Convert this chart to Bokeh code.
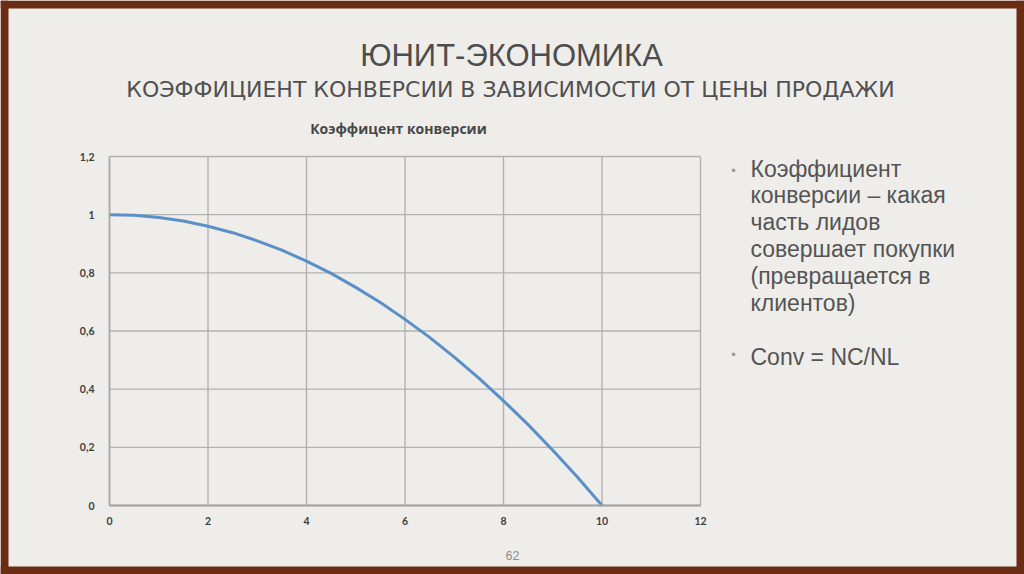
from bokeh.plotting import figure
from bokeh.models import Range1d, FixedTicker, CustomJSTickFormatter, Label
from bokeh.embed import file_html
from bokeh.resources import INLINE

# ---- data ----
price = [0, 0.5, 1, 1.5, 2, 2.5, 3, 3.5, 4, 4.5, 5, 5.5, 6, 6.5, 7, 7.5, 8, 8.5, 9, 9.5, 10]
conversion = [1.000, 0.998, 0.990, 0.978, 0.960, 0.938, 0.910, 0.878, 0.840, 0.798, 0.750,
              0.698, 0.640, 0.578, 0.510, 0.438, 0.360, 0.278, 0.190, 0.098, 0.000]
x_ticks = [0, 2, 4, 6, 8, 10, 12]
y_ticks = [0, 0.2, 0.4, 0.6, 0.8, 1.0, 1.2]

slide_title = "ЮНИТ-ЭКОНОМИКА"
slide_subtitle = "КОЭФФИЦИЕНТ КОНВЕРСИИ В ЗАВИСИМОСТИ ОТ ЦЕНЫ ПРОДАЖИ"
chart_title = "Коэффицент конверсии"
bullet1_lines = ["Коэффициент", "конверсии – какая", "часть лидов",
                 "совершает покупки", "(превращается в", "клиентов)"]
bullet2_lines = ["Conv = NC/NL"]
page_number = "62"

# ---- layout (page pixels) ----
PW, PH = 1024, 574
BROWN = "#6b2c14"
BG = "#eeedea"
TEXT = "#545454"
B = 8  # brown frame thickness
FL, FR, FT, FB = 109, 700, 156, 505  # chart plotting area in page pixels
XMAX, YMAX = x_ticks[-1], y_ticks[-1]


def dx(px):
    return (px - FL) / (FR - FL) * XMAX


def dy(py):
    return (FB - py) / (FB - FT) * YMAX


p = figure(width=PW, height=PH, output_backend="svg", toolbar_location=None,
           title=None, x_range=Range1d(dx(0), dx(PW)), y_range=Range1d(dy(PH), dy(0)),
           min_border=0, min_border_left=0, min_border_right=0,
           min_border_top=0, min_border_bottom=0)
p.background_fill_color = BG
p.border_fill_color = BG
p.outline_line_color = None
p.grid.visible = False

# brown slide frame
p.quad(left=[dx(0), dx(0), dx(0), dx(PW - B)],
       right=[dx(PW), dx(PW), dx(B), dx(PW)],
       top=[dy(0), dy(PH - B), dy(0), dy(0)],
       bottom=[dy(B), dy(PH), dy(PH), dy(PH)],
       fill_color=BROWN, line_color=None)

# grid lines (including top/right border of the plot area)
GRID = "#b2b2b2"
p.segment(x0=x_ticks, y0=[y_ticks[0]] * len(x_ticks), x1=x_ticks,
          y1=[y_ticks[-1]] * len(x_ticks), line_color=GRID, line_width=1.4)
p.segment(x0=[x_ticks[0]] * len(y_ticks), y0=y_ticks, x1=[x_ticks[-1]] * len(y_ticks),
          y1=y_ticks, line_color=GRID, line_width=1.4)

# axes at fixed positions inside the frame
fmt = CustomJSTickFormatter(code="""
const v = Math.round(tick * 10) / 10;
return v.toString().replace('.', ',');
""")
for ax in (p.xaxis[0], p.yaxis[0]):
    ax.fixed_location = 0
    ax.major_tick_line_color = None
    ax.minor_tick_line_color = None
    ax.major_label_text_font = "Lato"
    ax.major_label_text_font_style = "bold"
    ax.major_label_text_font_size = "10.5px"
    ax.major_label_text_color = "#404040"
    ax.formatter = fmt
p.xaxis.major_label_standoff = 5
p.yaxis.major_label_standoff = 9
p.xaxis.ticker = FixedTicker(ticks=x_ticks)
p.yaxis.ticker = FixedTicker(ticks=y_ticks)
p.xaxis.bounds = (x_ticks[0], x_ticks[-1])
p.yaxis.bounds = (y_ticks[0], y_ticks[-1])
p.xaxis.axis_line_color = "#a3a3a3"
p.xaxis.axis_line_width = 2.2
p.yaxis.axis_line_color = "#a8a8a8"
p.yaxis.axis_line_width = 1.6

p.line(price, conversion, line_color="#5b8fc8", line_width=3, line_join="round")


def add_label(text, px, py, size, font="Liberation Sans", color=TEXT,
              align="left", style="normal"):
    # py: visual vertical centre of the capitals (page pixels)
    p.add_layout(Label(x=dx(px), y=dy(py), text=text, text_font=font,
                       text_font_size=f"{size}px", text_color=color,
                       text_align=align, text_baseline="alphabetic",
                       text_font_style=style))


add_label(slide_title, 511, 55, 31, align="center", color="#4d4d4d")
add_label(slide_subtitle, 510, 89, 22, font="DejaVu Sans", align="center",
          color="#505050")
add_label(chart_title, 398, 128, 14, font="Open Sans", align="center",
          style="bold", color="#474747")

line_gap = 26.8
for i, t in enumerate(bullet1_lines):
    add_label(t, 750, 168 + i * line_gap, 23)
for i, t in enumerate(bullet2_lines):
    add_label(t, 750, 356 + i * line_gap, 23)
add_label("•", 733, 170, 13, align="center", color="#9a9a9a")
add_label("•", 733, 354, 13, align="center", color="#9a9a9a")

add_label(page_number, 512, 555, 12.5, align="center", color="#8c8c8c")

open("out.html", "w").write(file_html(p, INLINE))
